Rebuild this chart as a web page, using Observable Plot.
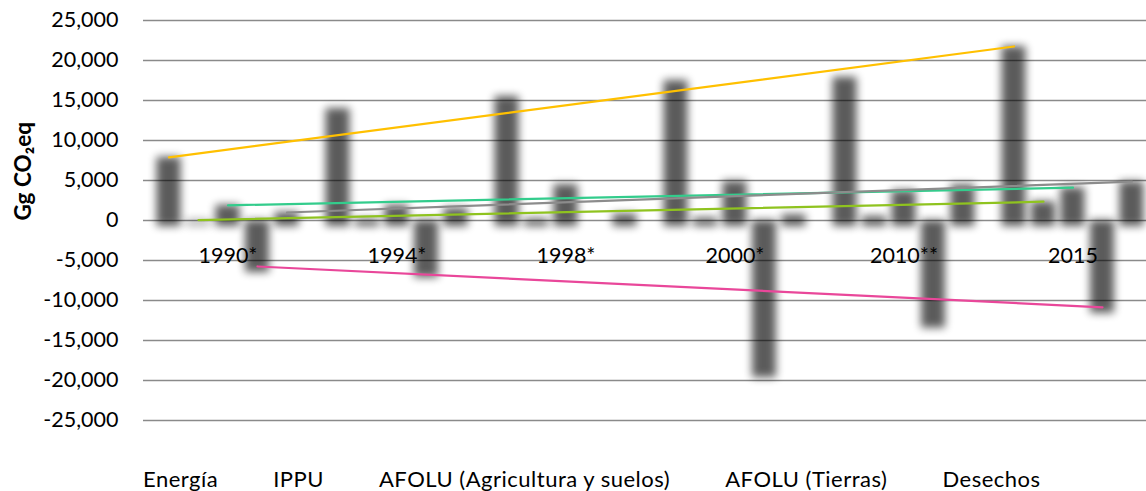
<!DOCTYPE html>
<html><head><meta charset="utf-8">
<script src="https://cdn.jsdelivr.net/npm/d3@7"></script>
<script src="https://cdn.jsdelivr.net/npm/@observablehq/plot@0.6"></script>
<style>
html,body{margin:0;padding:0;background:#fff;}
#wrap{position:relative;width:1146px;height:491px;overflow:hidden;font-family:Lato,"DejaVu Sans",sans-serif;}
#legend{position:absolute;left:143px;top:468px;display:flex;gap:55px;font-size:22px;letter-spacing:0.5px;line-height:1;color:#000;white-space:nowrap;}
</style></head><body>
<div id="wrap"><div id="chart"></div><div id="legend"></div></div>
<script>
// ---- data ----
const years = ["1990*", "1994*", "1998*", "2000*", "2010**", "2015"];
const seriesNames = ["Energía", "IPPU", "AFOLU (Agricultura y suelos)", "AFOLU (Tierras)", "Desechos"];
const energia      = [7900, 14000, 15500, 17500, 17900, 21750];
const ippu         = [60, 150, 200, 300, 500, 2350];
const afoluAgri    = [1900, 1900, 4500, 4900, 3750, 4100];
const afoluTierras = [-5750, -6400, 0, -18900, -12700, -10850];
const desechos     = [1000, 1500, 800, 700, 4450, 4850];
const trendColors  = ["#FFC000", "#8FC31F", "#33CC8C", "#E9479A", "#8C8C8C"];
const yTicks = [25000, 20000, 15000, 10000, 5000, 0, -5000, -10000, -15000, -20000, -25000];

const seriesValues = [energia, ippu, afoluAgri, afoluTierras, desechos];
const rows = seriesNames.map((s, i) => years.map((y, j) => ({series: s, year: y, value: seriesValues[i][j]})));

const fmt = d => (d < 0 ? "-" : "") + d3.format(",")(Math.abs(d));
const slot = 29.5, barW = 22, band = 169;

const marks = [Plot.gridY(yTicks, {stroke: "#8a8a8a", strokeOpacity: 1, strokeWidth: 1.3})];
seriesNames.forEach((s, i) => {
  marks.push(Plot.barY(rows[i], {
    x: "year", y: "value", fill: "#000",
    dx: (i - 2) * slot, insetLeft: (band - barW) / 2, insetRight: (band - barW) / 2,
    ariaLabel: "bar"
  }));
});
seriesNames.forEach((s, i) => {
  const r = rows[i];
  marks.push(Plot.line([r[0], r[r.length - 1]], {
    x: "year", y: "value", dx: (i - 2) * slot,
    stroke: trendColors[i], strokeWidth: 2.25
  }));
});
marks.push(Plot.axisY(yTicks, {tickSize: 0, tickPadding: 25, tickFormat: fmt, label: null}));
marks.push(Plot.axisX({anchor: "top", tickSize: 0, tickPadding: 0, dy: 242, label: null}));
marks.push(Plot.text(["Gg CO₂eq"], {frameAnchor: "left", dx: -120, rotate: -90, fontWeight: "bold", fontSize: 22.5}));

const chart = Plot.plot({
  width: 1146, height: 440,
  marginLeft: 143, marginRight: 0, marginTop: 20, marginBottom: 20,
  x: {type: "band", domain: years, range: [143, 1157], padding: 0},
  y: {domain: [-25000, 25000]},
  style: {fontFamily: "Lato, 'DejaVu Sans', sans-serif", fontSize: "21.5px", color: "#000", background: "#fff", overflow: "visible"},
  marks
});
document.getElementById("chart").appendChild(chart);

// soft shadow look of the bars
const svg = d3.select(chart);
const defs = svg.insert("defs", ":first-child");
const f = defs.append("filter").attr("id", "barShadow").attr("filterUnits", "userSpaceOnUse")
  .attr("x", -50).attr("y", -50).attr("width", 1300).attr("height", 560)
  .attr("color-interpolation-filters", "sRGB");
f.append("feMorphology").attr("in", "SourceGraphic").attr("operator", "dilate").attr("radius", "1 3").attr("result", "d");
f.append("feOffset").attr("in", "d").attr("dx", 0).attr("dy", 3).attr("result", "o");
f.append("feGaussianBlur").attr("in", "o").attr("stdDeviation", 4.5);
svg.selectAll('g[aria-label="bar"]').attr("filter", "url(#barShadow)").attr("opacity", 0.64);

// legend (text only, as in the original)
const legend = d3.select("#legend");
seriesNames.forEach(s => legend.append("span").text(s));
</script>
</body></html>
